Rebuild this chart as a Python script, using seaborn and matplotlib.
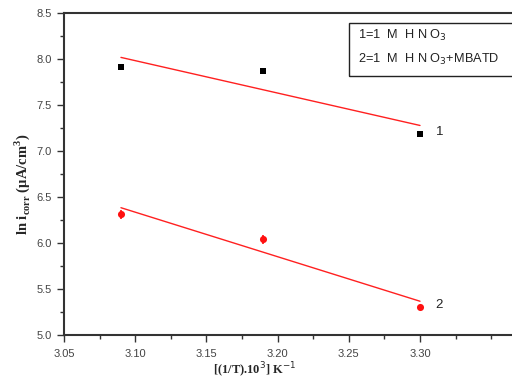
import numpy as np
import pandas as pd
import matplotlib
matplotlib.use("Agg")
import matplotlib.pyplot as plt
from matplotlib.ticker import MultipleLocator, FormatStrFormatter
from matplotlib.patches import Rectangle
import seaborn as sns

# Data
inv_T = [3.09, 3.19, 3.30]
ln_i_hno3 = [7.91, 7.87, 7.18]
ln_i_mbatd = [6.31, 6.04, 5.30]
err_mbatd = [0.05, 0.05, 0.03]
series_labels = ["1", "2"]
legend_lines = ["1=1  M  H N O$_3$", "2=1  M  H N O$_3$+MBATD"]

sns.set_style("ticks")
plt.rcParams['font.family'] = ['Liberation Sans', 'DejaVu Sans']

df1 = pd.DataFrame({"x": inv_T, "y": ln_i_hno3})
df2 = pd.DataFrame({"x": inv_T, "y": ln_i_mbatd})

fig = plt.figure(figsize=(5.12, 3.89), dpi=100)
W, H = 512, 389
x0, x1 = 64, 64 + 0.35 * 1424
y_top, y_bot = 13, 335
ax = fig.add_axes([x0 / W, (H - y_bot) / H, (x1 - x0) / W, (y_bot - y_top) / H])

# fitted lines
sns.regplot(data=df1, x="x", y="y", ax=ax, scatter=False, ci=None, truncate=True,
            line_kws=dict(color="#ff2020", lw=1.0))
sns.regplot(data=df2, x="x", y="y", ax=ax, scatter=False, ci=None, truncate=True,
            line_kws=dict(color="#ff2020", lw=1.0))

# points
sns.scatterplot(data=df1, x="x", y="y", ax=ax, marker="s", s=24, color="black",
                edgecolor="black", linewidth=0, zorder=5)
ax.errorbar(inv_T, ln_i_mbatd, yerr=err_mbatd, fmt="none", ecolor="#ff1010",
            elinewidth=1.2, capsize=0, zorder=4)
sns.scatterplot(data=df2, x="x", y="y", ax=ax, marker="o", s=26, color="#ff1010",
                edgecolor="#ff1010", linewidth=0, zorder=5)

ax.text(inv_T[-1] + 0.011, ln_i_hno3[-1] + 0.03, series_labels[0], fontsize=9.5,
        color="#222222", va="center", ha="left")
ax.text(inv_T[-1] + 0.011, ln_i_mbatd[-1] + 0.03, series_labels[1], fontsize=9.5,
        color="#222222", va="center", ha="left")

ax.set_xlim(3.05, 3.40)
ax.set_ylim(5.0, 8.5)
ax.set_xticks([3.05, 3.10, 3.15, 3.20, 3.25, 3.30])
ax.xaxis.set_minor_locator(MultipleLocator(0.025))
ax.yaxis.set_major_locator(MultipleLocator(0.5))
ax.yaxis.set_minor_locator(MultipleLocator(0.25))
ax.xaxis.set_major_formatter(FormatStrFormatter("%.2f"))
ax.yaxis.set_major_formatter(FormatStrFormatter("%.1f"))
ax.tick_params(which="major", direction="out", length=5, width=1, labelsize=8,
               colors="#333333", labelcolor="#444444")
ax.tick_params(which="minor", direction="out", length=3, width=1, colors="#333333")
ax.tick_params(axis="x", pad=5)
ax.tick_params(axis="y", pad=4)
for s in ax.spines.values():
    s.set_linewidth(1.5)
    s.set_color("#333333")
    s.set_visible(True)
ax.set_xlabel("")
ax.set_ylabel("")

fig.text(255 / W, 1 - 370 / H, r"[(1/T).10$^{3}$] K$^{-1}$", fontsize=9, fontweight="bold",
         family=["Liberation Serif", "DejaVu Serif"], ha="center", va="center")
fig.text(22 / W, 1 - 184 / H, r"ln i$_{\mathregular{corr}}$ (µA/cm$^{\mathregular{3}}$)",
         fontsize=10.5, fontweight="bold", family=["Liberation Serif", "DejaVu Serif"],
         rotation=90, ha="center", va="center")

# legend box
fig.patches.append(Rectangle((349 / W, 1 - 76 / H), (W + 5 - 349) / W, 53 / H,
                             transform=fig.transFigure, fill=False, edgecolor="#222222",
                             linewidth=1.0, zorder=10))
fig.text(358 / W, 1 - 35 / H, legend_lines[0], fontsize=9.2, color="#222222",
         ha="left", va="center")
fig.text(358 / W, 1 - 59 / H, legend_lines[1], fontsize=9.2, color="#222222",
         ha="left", va="center")

fig.savefig("out.png", dpi=100)
